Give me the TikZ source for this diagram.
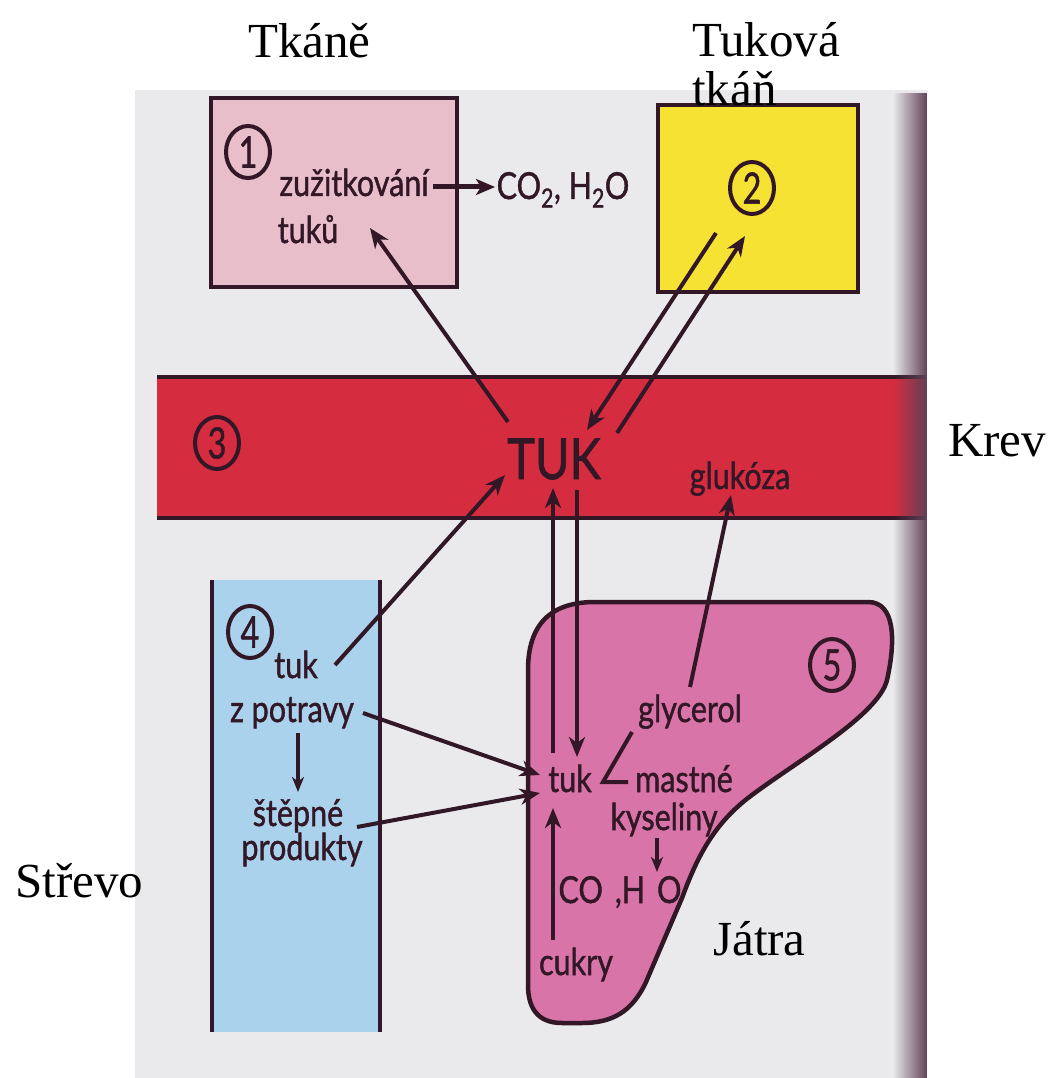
\documentclass[tikz,border=0pt]{standalone}
\usepackage{fontspec}
\setmainfont{Liberation Serif}
\newfontfamily\gill[FakeBold=1.3]{Lato}
\usetikzlibrary{arrows.meta,fadings,shapes.geometric}
\definecolor{pagebg}{RGB}{234,234,236}
\definecolor{ink}{RGB}{50,24,38}
\definecolor{boxone}{RGB}{232,190,202}
\definecolor{boxtwo}{RGB}{246,226,50}
\definecolor{blood}{RGB}{214,44,64}
\definecolor{gut}{RGB}{170,210,236}
\definecolor{liver}{RGB}{216,116,168}
\definecolor{edgeshade}{RGB}{96,66,88}
\tikzfading[name=toright, left color=transparent!100, right color=transparent!0]
\newcommand\tx[1]{\scalebox{1}[1.22]{#1}}
\begin{document}
\begin{tikzpicture}[x=1pt,y=-1pt,
  outline/.style={draw=ink, line width=4.5pt},
  lab/.style={font=\fontsize{49}{50}\selectfont, text=black, inner sep=0pt, anchor=base west},
  txt/.style={font=\gill\fontsize{30.5}{32}\selectfont, text=ink, inner sep=0pt, anchor=base},
  num/.style={draw=ink, line width=4pt, ellipse, minimum width=44pt, minimum height=52pt, inner sep=0pt, font=\gill\fontsize{36}{36}\selectfont, text=ink},
  arr/.style={draw=ink, line width=4pt, -{Stealth[length=20pt,width=16pt,inset=6pt]}},
  sarr/.style={draw=ink, line width=3.2pt, -{Stealth[length=15pt,width=12pt,inset=4.5pt]}},
  ln/.style={draw=ink, line width=4pt},
]
\useasboundingbox (0,0) rectangle (1049,1078);
% scanned page
\fill[pagebg] (135,90) rectangle (927,1078);
% box 1 Tkane
\filldraw[fill=boxone, outline] (211,98) rectangle (457,287);
% box 2 Tukova tkan
\filldraw[fill=boxtwo, outline] (658,105) rectangle (858,292);
% blood band
\fill[blood] (157,377) rectangle (927,518);
\draw[outline] (157,377) -- (927,377);
\draw[outline] (157,518) -- (927,518);
% gut strip
\fill[gut] (212,580) rectangle (380,1032);
\draw[outline] (212,580) -- (212,1032);
\draw[outline] (380,580) -- (380,1032);
% liver
\filldraw[fill=liver, outline] (528,670) .. controls (528,625) and (550,602) .. (595,602)
  -- (868,602) .. controls (895,602) and (896,640) .. (887,680)
  .. controls (878,716) and (795,762) .. (748,798)
  .. controls (712,826) and (696,860) .. (682,898)
  -- (646,982) .. controls (632,1012) and (612,1023) .. (582,1023)
  -- (562,1023) .. controls (536,1023) and (528,1006) .. (528,985) -- cycle;
% page edge shading
\fill[edgeshade, path fading=toright] (893,90) rectangle (927,1078);

% outside labels
\node[lab] (lTkane) at (248,58) {Tkáně};
\node[lab] (lTukova) at (692,57) {Tuková};
\node[lab] (lTkan) at (692,106) {tkáň};
\node[lab] (lKrev) at (948,456) {Krev};
\node[lab] (lStrevo) at (15,897) {Střevo};
\node[lab] (lJatra) at (713,955) {Játra};

% numbers
\node[num] (n1) at (248,152) {\scalebox{0.9}[1.2]{1}};
\node[num] (n2) at (752,188) {\scalebox{0.9}[1.2]{2}};
\node[num] (n3) at (217,443) {\scalebox{0.9}[1.2]{3}};
\node[num] (n4) at (250,632) {\scalebox{0.9}[1.2]{4}};
\node[num] (n5) at (832,665) {\scalebox{0.9}[1.2]{5}};

% texts
\node[txt] (zuz) at (354,196) {\tx{zužitkování}};
\node[txt] (tuku) at (308,243) {\tx{tuků}};
\node[txt] (co2) at (563,199) {\tx{CO\textsubscript{2}, H\textsubscript{2}O}};
\node[txt, font=\gill\fontsize{47}{47}\selectfont] (TUK) at (554,479) {\scalebox{1}[1.2]{TUK}};
\node[txt] (gluk) at (740,489) {\tx{glukóza}};
\node[txt] (tukg) at (296,678) {\tx{tuk}};
\node[txt] (zpot) at (292,722) {\tx{z potravy}};
\node[txt] (step) at (298,826) {\tx{štěpné}};
\node[txt] (prod) at (302,860) {\tx{produkty}};
\node[txt] (glyc) at (690,722) {\tx{glycerol}};
\node[txt] (tukl) at (570,792) {\tx{tuk}};
\node[txt] (mast) at (684,792) {\tx{mastné}};
\node[txt] (kys) at (664,830) {\tx{kyseliny}};
\node[txt] (cohol) at (620,903) {\tx{CO\hspace{12pt},H\hspace{12pt}O}};
\node[txt] (cuk) at (576,975) {\tx{cukry}};

% connector end points
\coordinate (zuzE) at (433,187);
\coordinate (coW) at (495,187);
\coordinate (tukNW) at (508,422);
\coordinate (tukuE) at (370,228);
\coordinate (twoA) at (716,233);
\coordinate (tukNE) at (587,430);
\coordinate (tukNE2) at (617,433);
\coordinate (twoB) at (745,236);
\coordinate (tukgE) at (335,665);
\coordinate (tukSW) at (505,475);
\coordinate (tukS1) at (553,488);
\coordinate (tukS2) at (577,490);
\coordinate (tuklN1) at (553,753);
\coordinate (tuklN2) at (577,757);
\coordinate (zpotE) at (363,713);
\coordinate (tuklW1) at (540,775);
\coordinate (prodE) at (357,827);
\coordinate (tuklW2) at (540,793);
\coordinate (zpotS) at (298,733);
\coordinate (stepN) at (298,792);
\coordinate (glycN) at (690,687);
\coordinate (glukS) at (731,495);
\coordinate (glycSW) at (632,732);
\coordinate (angV) at (603,782);
\coordinate (mastW) at (628,782);
\coordinate (kysS) at (657,838);
\coordinate (coholN) at (657,872);
\coordinate (cukN) at (553,940);
\coordinate (tuklS) at (553,808);

% connectors
\draw[arr, line width=5pt, -{Stealth[length=19pt,width=16pt,inset=5pt]}] (zuzE) -- (coW);
\draw[arr] (tukNW) -- (tukuE);
\draw[arr] (twoA) -- (tukNE);
\draw[arr] (tukNE2) -- (twoB);
\draw[arr] (tukgE) -- (tukSW);
\draw[arr] (tuklN1) -- (tukS1);
\draw[arr] (tukS2) -- (tuklN2);
\draw[arr] (zpotE) -- (tuklW1);
\draw[arr] (prodE) -- (tuklW2);
\draw[sarr] (zpotS) -- (stepN);
\draw[arr] (glycN) -- (glukS);
\draw[ln] (glycSW) -- (angV) -- (mastW);
\draw[sarr] (kysS) -- (coholN);
\draw[arr] (cukN) -- (tuklS);
\end{tikzpicture}
\end{document}
